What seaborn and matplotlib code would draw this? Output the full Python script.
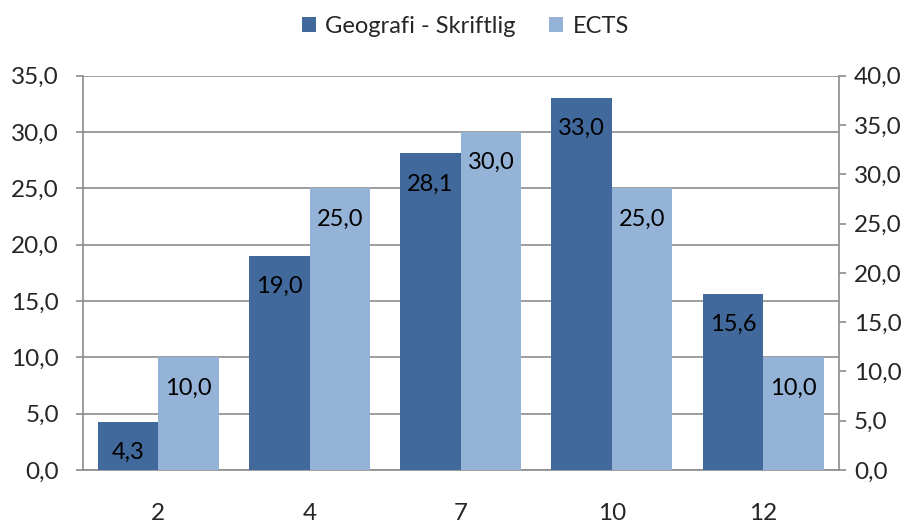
import pandas as pd
import seaborn as sns
import matplotlib.pyplot as plt
from matplotlib.ticker import FixedLocator

# === Data ===
grades = ["2", "4", "7", "10", "12"]
geografi = [4.3, 19.0, 28.1, 33.0, 15.6]
ects = [10.0, 25.0, 30.0, 25.0, 10.0]
series_names = ["Geografi - Skriftlig", "ECTS"]
left_ticks = [0, 5, 10, 15, 20, 25, 30, 35]
right_ticks = [0, 5, 10, 15, 20, 25, 30, 35, 40]

df = pd.DataFrame({
    "grade": grades * 2,
    "value": geografi + ects,
    "series": [series_names[0]] * len(grades) + [series_names[1]] * len(grades),
})

sns.set_style("white")
plt.rcParams["font.family"] = ["Lato", "DejaVu Sans"]

fig = plt.figure(figsize=(9.16, 5.26), dpi=100)
ax = fig.add_axes([0.0903, 0.1065, 0.8253, 0.7495])

palette = {series_names[0]: "#41699c", series_names[1]: "#95b3d7"}
sns.barplot(data=df, x="grade", y="value", hue="series", order=grades,
            hue_order=series_names, palette=palette, width=0.8,
            saturation=1, ax=ax, zorder=3, edgecolor="none")

# data labels inside the bar tops
for cont in ax.containers:
    for patch in cont:
        h = patch.get_height()
        ax.annotate(f"{h:.1f}".replace(".", ","),
                    (patch.get_x() + patch.get_width() / 2, h),
                    xytext=(0, -22), textcoords="offset points",
                    ha="center", va="center", fontsize=17, color="black",
                    zorder=5)

grid_col = "#8c8c8c"
tick_font = 17.5
ax.set_ylim(0, 35)
ax.set_xlim(-0.5, len(grades) - 0.5)
ax.set_yticks(left_ticks)
ax.set_yticklabels([f"{t:.1f}".replace(".", ",") for t in left_ticks], fontsize=tick_font)
ax.yaxis.grid(True, color=grid_col, linewidth=1.2, zorder=0)
ax.set_axisbelow(True)

# category labels at centers, tick marks between categories
ax.tick_params(axis="x", which="major", length=0, pad=24, labelsize=tick_font)
ax.xaxis.set_minor_locator(FixedLocator([i - 0.5 for i in range(len(grades) + 1)]))
ax.tick_params(axis="x", which="minor", length=5, width=1.2, color=grid_col, direction="out")
ax.tick_params(axis="y", length=5, width=1.2, color=grid_col, direction="out", pad=12)
ax.set_xlabel("")
ax.set_ylabel("")

for side in ["left", "bottom"]:
    ax.spines[side].set_color(grid_col)
    ax.spines[side].set_linewidth(1.2)
ax.spines["top"].set_visible(False)
ax.spines["right"].set_visible(False)

# secondary axis (0-40) on the right
ax2 = ax.twinx()
ax2.set_ylim(0, 40)
ax2.set_yticks(right_ticks)
ax2.set_yticklabels([f"{t:.1f}".replace(".", ",") for t in right_ticks], fontsize=tick_font)
ax2.tick_params(axis="y", length=5, width=1.2, color=grid_col, direction="out", pad=6)
for side in ["top", "left", "bottom"]:
    ax2.spines[side].set_visible(False)
ax2.spines["right"].set_color(grid_col)
ax2.spines["right"].set_linewidth(1.2)

# legend at the top
handles, labels = ax.get_legend_handles_labels()
ax.legend(handles, labels, loc="center", bbox_to_anchor=(0.506, 1.125),
          ncol=2, frameon=False, fontsize=17, handlelength=0.6,
          handleheight=0.6, handletextpad=0.4, columnspacing=1.4)

plt.savefig("out.png", dpi=100)
